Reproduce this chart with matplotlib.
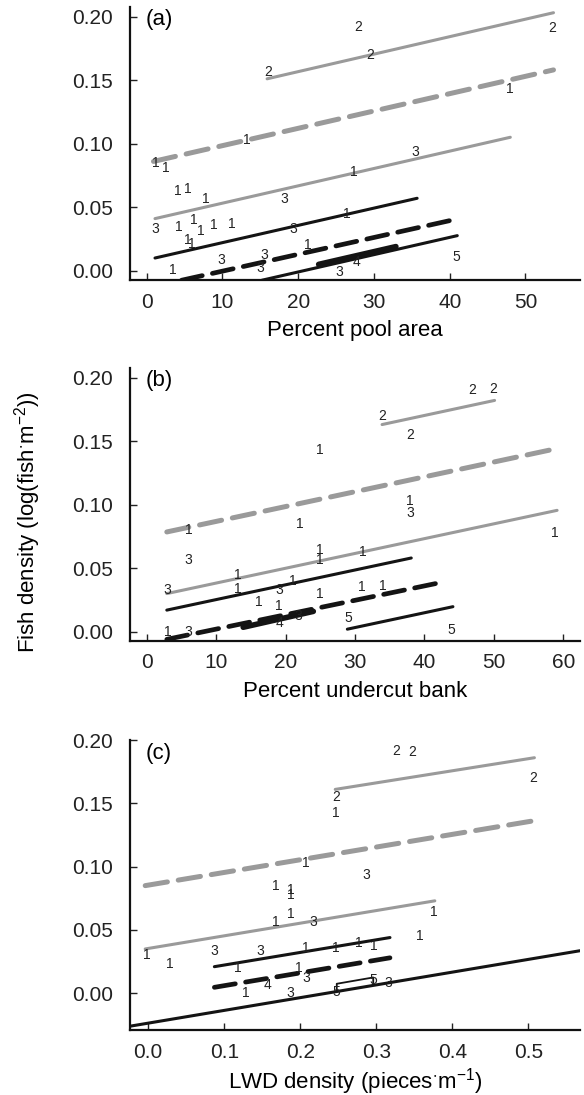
import matplotlib
matplotlib.use('Agg')
import matplotlib.pyplot as plt
from matplotlib.ticker import FormatStrFormatter

plt.rcParams['font.family'] = ['Liberation Sans', 'DejaVu Sans']
plt.rcParams['mathtext.fontset'] = 'custom'
plt.rcParams['mathtext.rm'] = 'Liberation Sans'

# fitted lines: [x0, x1], [y0, y1], group
a_line_x = [[15.9, 53.7], [0.9, 53.7], [1.1, 48.0], [1.1, 35.7], [4.6, 41.2], [15.2, 41.0], [22.7, 32.9]]
a_line_y = [[0.151, 0.203], [0.086, 0.158], [0.041, 0.105], [0.010, 0.057], [-0.0075, 0.041], [-0.0075, 0.0276], [0.005, 0.019]]
a_line_grp = ['gs', 'gd', 'gs', 'ks', 'kd', 'ks', 'kb']

b_line_x = [[33.9, 50.1], [2.9, 58.1], [2.9, 59.1], [2.9, 38.1], [2.9, 42.6], [13.9, 24.0], [28.9, 44.1]]
b_line_y = [[0.163, 0.182], [0.0785, 0.143], [0.030, 0.0955], [0.017, 0.058], [-0.006, 0.039], [0.0035, 0.016], [0.002, 0.0197]]
b_line_grp = ['gs', 'gd', 'gs', 'ks', 'kd', 'kb', 'ks']

c_line_x = [[0.246, 0.508], [-0.004, 0.505], [-0.004, 0.377], [0.087, 0.318], [0.087, 0.318], [-0.024, 0.568]]
c_line_y = [[0.161, 0.186], [0.085, 0.136], [0.035, 0.073], [0.021, 0.044], [0.0047, 0.028], [-0.026, 0.0336]]
c_line_grp = ['gs', 'gd', 'gs', 'ks', 'kd', 'ks']
c_box_x = [0.248, 0.248, 0.296, 0.296]
c_box_y = [0.0025, 0.0075, 0.0125, 0.0075]

# plotted site numbers
a_lab_x = [27.9, 53.5, 29.5, 16.0, 47.9, 13.2, 1.2, 2.5, 35.4, 27.3, 4.1, 5.4, 7.8, 18.1, 26.4, 1.2,
           4.2, 6.2, 7.2, 8.8, 11.2, 19.4, 5.4, 5.9, 21.3, 9.8, 15.5, 15.0, 3.4, 27.7, 25.4, 40.9]
a_lab_y = [0.192, 0.191, 0.170, 0.156, 0.143, 0.103, 0.085, 0.081, 0.0935, 0.078, 0.063, 0.0645, 0.0565,
           0.0565, 0.045, 0.033, 0.0345, 0.040, 0.0315, 0.036, 0.037, 0.033, 0.024, 0.021, 0.020,
           0.0085, 0.0125, 0.002, 0.0005, 0.0065, -0.001, 0.0105]
a_lab_txt = ['2', '2', '2', '2', '1', '1', '1', '1', '3', '1', '1', '1', '1', '3', '1', '3',
             '1', '1', '1', '1', '1', '3', '1', '1', '1', '3', '3', '3', '1', '4', '3', '5']

b_lab_x = [46.9, 49.9, 33.9, 37.9, 25.0, 37.9, 37.9, 22.0, 6.0, 58.8, 6.0, 25.0, 25.0, 31.1, 13.1,
           3.0, 13.1, 21.0, 19.1, 31.0, 34.0, 16.1, 19.1, 25.0, 21.9, 19.1, 29.0, 43.9, 3.0, 6.0]
b_lab_y = [0.190, 0.191, 0.170, 0.155, 0.143, 0.103, 0.0935, 0.085, 0.080, 0.078, 0.0565, 0.0645,
           0.0565, 0.063, 0.045, 0.033, 0.034, 0.040, 0.033, 0.0355, 0.036, 0.023, 0.020, 0.030,
           0.0125, 0.0065, 0.0105, 0.0013, -0.0005, -0.0005]
b_lab_txt = ['2', '2', '2', '2', '1', '1', '3', '1', '1', '1', '3', '1', '1', '1', '1',
             '3', '1', '1', '3', '1', '1', '1', '1', '1', '3', '4', '5', '5', '1', '3']

c_lab_x = [0.326, 0.347, 0.506, 0.247, 0.247, 0.2075, 0.287, 0.168, 0.188, 0.188, 0.376, 0.188,
           0.168, 0.217, 0.357, -0.002, 0.028, 0.087, 0.147, 0.2075, 0.247, 0.277, 0.297, 0.118,
           0.198, 0.2075, 0.1575, 0.128, 0.187, 0.2965, 0.316, 0.247]
c_lab_y = [0.1915, 0.1905, 0.170, 0.155, 0.1425, 0.1025, 0.0935, 0.085, 0.0815, 0.0775, 0.0645,
           0.0625, 0.0565, 0.0565, 0.045, 0.030, 0.023, 0.033, 0.033, 0.0355, 0.0355, 0.0395,
           0.037, 0.020, 0.020, 0.012, 0.0065, 0.0, 0.0, 0.0105, 0.008, 0.0013]
c_lab_txt = ['2', '2', '2', '2', '1', '1', '3', '1', '1', '1', '1', '1', '1', '3', '1', '1', '1',
             '3', '3', '1', '1', '1', '1', '1', '1', '3', '4', '1', '3', '5', '3', '5']

styles = {
    'gs': dict(color='#9a9a9a', lw=2.2, solid_capstyle='round'),
    'gd': dict(color='#9a9a9a', lw=3.6, dashes=(4.5, 2.2), dash_capstyle='round'),
    'ks': dict(color='#141414', lw=2.2, solid_capstyle='round'),
    'kd': dict(color='#141414', lw=3.4, dashes=(4.5, 2.2), dash_capstyle='round'),
    'kb': dict(color='#141414', lw=4.0, solid_capstyle='round'),
}

fig = plt.figure(figsize=(5.84, 10.95), dpi=100)
ax_a = fig.add_axes([130 / 584, 1 - 280 / 1095, 450 / 584, 273 / 1095])
ax_b = fig.add_axes([130 / 584, 1 - 641 / 1095, 450 / 584, 273 / 1095])
ax_c = fig.add_axes([130 / 584, 1 - 1030 / 1095, 450 / 584, 290 / 1095])

panels = [
    (ax_a, a_line_x, a_line_y, a_line_grp, a_lab_x, a_lab_y, a_lab_txt, '(a)', 'Percent pool area'),
    (ax_b, b_line_x, b_line_y, b_line_grp, b_lab_x, b_lab_y, b_lab_txt, '(b)', 'Percent undercut bank'),
    (ax_c, c_line_x, c_line_y, c_line_grp, c_lab_x, c_lab_y, c_lab_txt, '(c)',
     r'LWD density (pieces$\mathregular{^{\cdot}}$m$\mathregular{^{-1}}$)'),
]

for ax, lx, ly, lg, tx, ty, tt, tag, xlab in panels:
    for xs, ys, g in zip(lx, ly, lg):
        ax.plot(xs, ys, **styles[g], zorder=2)
    for x, y, t in zip(tx, ty, tt):
        ax.text(x, y, t, fontsize=10, color='#222222', ha='center', va='center', zorder=3)
    ax.text(0.035, 0.955, tag, transform=ax.transAxes, fontsize=16, ha='left', va='center')
    ax.set_xlabel(xlab, fontsize=16, labelpad=6)
    for s in ['top', 'right']:
        ax.spines[s].set_visible(False)
    for s in ['left', 'bottom']:
        ax.spines[s].set_linewidth(1.6)
        ax.spines[s].set_color('#111111')
    ax.tick_params(direction='in', length=5, width=1, labelsize=15, colors='#222222')
    ax.tick_params(axis='y', pad=12)
    ax.tick_params(axis='x', pad=9)
    ax.set_yticks([0.0, 0.05, 0.10, 0.15, 0.20])
    ax.yaxis.set_major_formatter(FormatStrFormatter('%.2f'))

ax_c.plot(c_box_x, c_box_y, color='#141414', lw=1.3, zorder=2)

ax_a.set_xlim(-2.2, 57.2)
ax_a.set_ylim(-0.0073, 0.2075)
ax_a.set_xticks([0, 10, 20, 30, 40, 50])

ax_b.set_xlim(-2.4, 62.4)
ax_b.set_ylim(-0.0073, 0.2075)
ax_b.set_xticks([0, 10, 20, 30, 40, 50, 60])

ax_c.set_xlim(-0.024, 0.568)
ax_c.set_ylim(-0.029, 0.2)
ax_c.set_xticks([0.0, 0.1, 0.2, 0.3, 0.4, 0.5])
ax_c.xaxis.set_major_formatter(FormatStrFormatter('%.1f'))
ax_c.xaxis.labelpad = 3

fig.text(28 / 584, 1 - 522 / 1095,
         r'Fish density (log(fish$\mathregular{^{\cdot}}$m$\mathregular{^{-2}}$))',
         rotation=90, fontsize=16, ha='center', va='center')

fig.savefig('out.png', dpi=100)
